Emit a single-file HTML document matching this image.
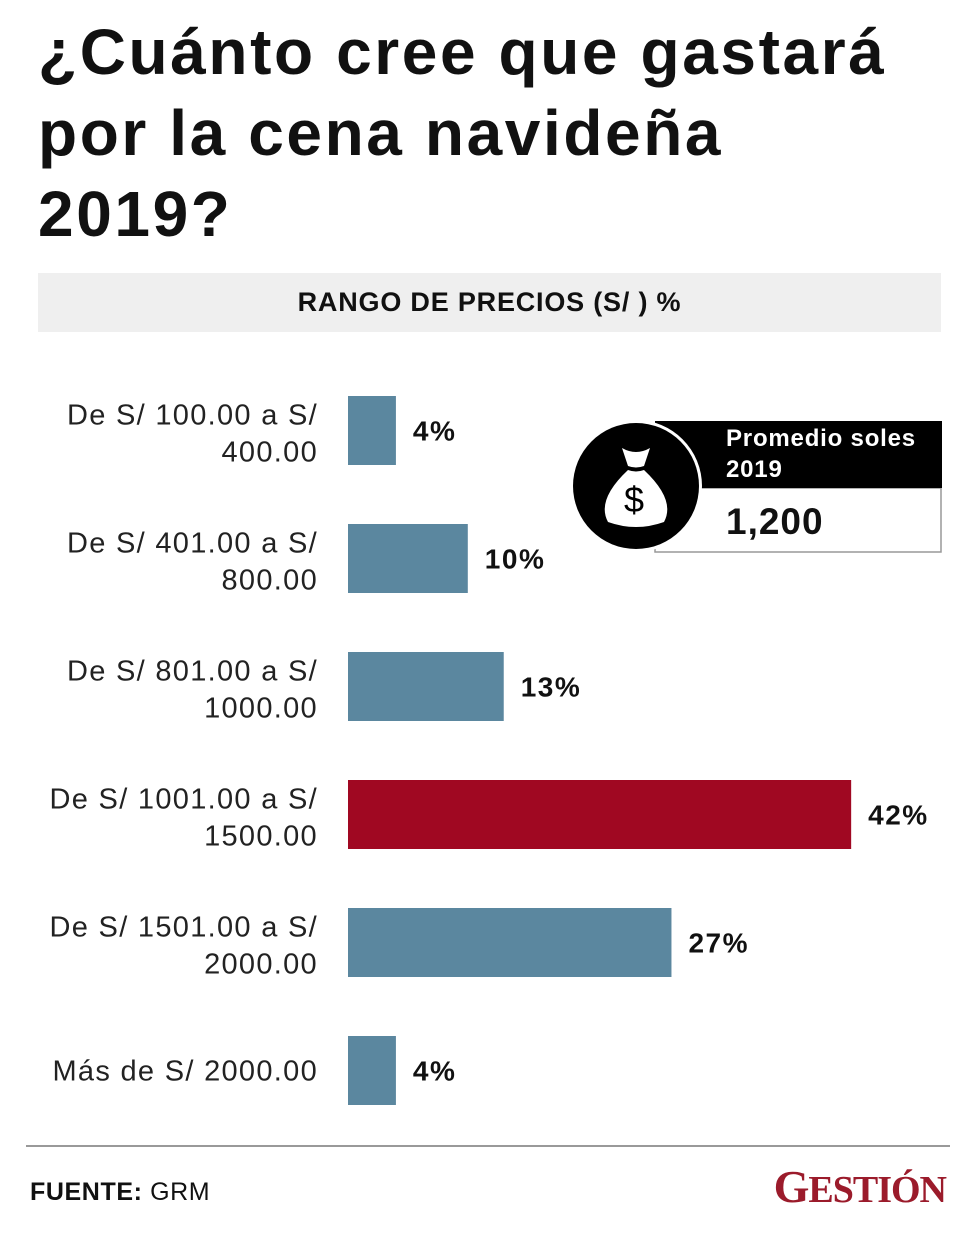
<!DOCTYPE html>
<html><head><meta charset="utf-8"><style>
body{margin:0;background:#fff;font-family:"Liberation Sans",sans-serif;}
#root{position:relative;width:980px;height:1242px;overflow:hidden;}
.title{position:absolute;left:38px;top:12px;font-weight:bold;font-size:64px;line-height:81px;color:#111;letter-spacing:2.6px;margin:0}
.band{position:absolute;left:38px;top:273px;width:903px;height:59px;background:#efefef;font-weight:bold;font-size:27px;letter-spacing:0.8px;line-height:59px;text-align:center;color:#111}
</style></head><body>
<div id="root">
<h1 class="title">¿Cuánto cree que gastará<br>por la cena navideña<br>2019?</h1>
<div class="band">RANGO DE PRECIOS (S/ ) %</div>
<svg id="chart" width="980" height="1242" style="position:absolute;left:0;top:0"></svg>
<div style="position:absolute;left:26px;top:1145px;width:924px;height:2px;background:#999"></div>
<div style="position:absolute;left:30px;top:1178px;font-size:25px;letter-spacing:0.6px;color:#111"><b>FUENTE:</b> GRM</div>
<div style="position:absolute;right:34px;top:1160px;font-family:'Liberation Serif',serif;font-weight:bold;font-size:46px;color:#9b1b2b;letter-spacing:-1px">G<span style="font-size:38px">ESTIÓN</span></div>
</div>
<script>
const categories=[["De S/ 100.00 a S/","400.00"],["De S/ 401.00 a S/","800.00"],["De S/ 801.00 a S/","1000.00"],["De S/ 1001.00 a S/","1500.00"],["De S/ 1501.00 a S/","2000.00"],["Más de S/ 2000.00"]];
const values=[4,10,13,42,27,4];
const valueLabels=["4%","10%","13%","42%","27%","4%"];
const highlight=[false,false,false,true,false,false];
const NS="http://www.w3.org/2000/svg";
const svg=document.getElementById('chart');
const x0=348,pxPer=11.98,y0=396,step=128,bh=69;
function xs(v){return v*pxPer;}
function ys(i){return y0+i*step;}
function mk(t,a){const e=document.createElementNS(NS,t);for(const k in a)e.setAttribute(k,a[k]);svg.appendChild(e);return e;}
values.forEach((v,i)=>{
 const r=mk('rect',{x:x0,y:ys(i),width:xs(v),height:bh,fill:highlight[i]?'#a00822':'#5b879f'});
 
 
 const t=mk('text',{x:x0+xs(v)+17,y:ys(i)+bh/2+10,'font-size':28,'font-weight':'bold','letter-spacing':1.5,fill:'#111','font-family':'Liberation Sans, sans-serif'});
 t.textContent=valueLabels[i];
 
 
 const lines=categories[i];
 const lab=mk('text',{x:318,'text-anchor':'end','font-size':29,'letter-spacing':1.3,fill:'#222','font-family':'Liberation Sans, sans-serif'});
 
 
 const startY=lines.length===2?ys(i)+bh/2-6:ys(i)+bh/2+10;
 lines.forEach((l,j)=>{const ts=document.createElementNS(NS,'tspan');ts.setAttribute('x',318);ts.setAttribute('y',startY+j*37);ts.textContent=l;lab.appendChild(ts);});
});
const g=mk('g',{});


g.innerHTML='<rect x="655" y="488" width="286" height="64" fill="#fff" stroke="#999" stroke-width="1.5"/>'+
'<rect x="655" y="421" width="287" height="67" fill="#000"/>'+
'<circle cx="636" cy="486" r="66" fill="#fff"/><circle cx="636" cy="486" r="63" fill="#000"/>'+
'<path d="M622 448 Q636 456 650 448 L644 466 Q636 469 628 466 Z" fill="#fff"/>'+
'<path d="M628 470 Q636 473 644 470 Q676 500 664 522 Q636 532 608 522 Q596 500 628 470 Z" fill="#fff"/>'+
'<text x="634" y="512" text-anchor="middle" font-size="36" fill="#000" font-family="Liberation Sans, sans-serif">$</text>'+
'<text x="726" y="446" font-size="24" font-weight="bold" letter-spacing="0.8" fill="#fff" font-family="Liberation Sans, sans-serif">Promedio soles</text>'+
'<text x="726" y="477" font-size="24" font-weight="bold" letter-spacing="0.8" fill="#fff" font-family="Liberation Sans, sans-serif">2019</text>'+
'<text x="726" y="534" font-size="37" font-weight="bold" letter-spacing="1" fill="#111" font-family="Liberation Sans, sans-serif">1,200</text>';
</script>
</body></html>
